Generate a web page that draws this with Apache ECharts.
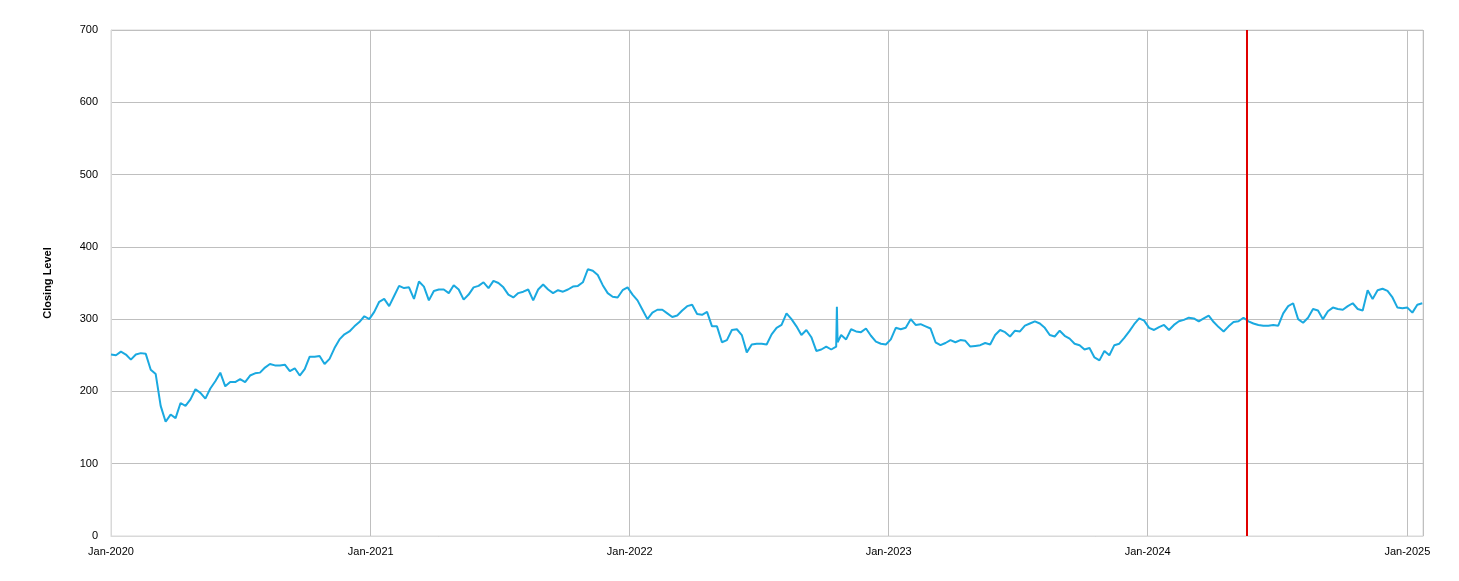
<!DOCTYPE html>
<html>
<head>
<meta charset="utf-8">
<script src="https://cdn.jsdelivr.net/npm/echarts@6/dist/echarts.min.js"></script>
<style>
html,body{margin:0;padding:0;background:#fff;}
#chart{width:1459px;height:581px;}
</style>
</head>
<body>
<div id="chart"></div>
<script>
// Weekly closing levels starting 2020-01-01 (one value every 7 days)
const startDate = '2020-01-01';
const stepDays = 7;
const closes = [
251,250,255,251,244,251,253,252,230,224,
180,158,168,163,184,180,189,203,198,190,
204,214,226,207,213,213,217,213,222,225,
226,233,238,236,236,237,228,232,222,231,
248,248,249,238,245,260,272,279,283,290,
296,304,300,310,324,328,318,332,346,343,
344,328,352,345,326,339,341,341,336,347,
341,327,334,344,346,351,343,353,350,344,
334,330,336,338,341,326,341,348,341,336,
340,338,341,345,346,351,369,367,361,347,
336,331,330,340,344,334,326,313,300,309,
313,313,308,303,305,312,318,320,307,306,
310,290,290,268,271,285,286,278,254,265,
266,266,265,279,288,292,308,300,290,278,
285,275,256,258,262,258,262,278,272,286,
283,282,287,277,269,266,265,272,288,286,
288,300,292,293,290,287,268,264,267,271,
268,271,270,262,263,264,267,265,278,285,
282,276,284,283,291,294,297,294,288,278,
276,284,277,273,266,264,258,260,247,243,
256,250,264,266,274,283,293,301,298,288,
285,289,292,285,292,297,299,302,301,297,
301,305,296,289,283,290,296,297,302,297,
294,292,291,291,292,291,308,318,322,300,
295,302,314,312,300,311,316,314,313,318,
322,314,312,340,328,340,342,339,330,316,
315,316,309,320,322
];
// Extra daily points (one-day spike)
const extraDates = ['2022-10-20', '2022-10-21'];
const extraValues = [317, 268];

const yTicks = [0, 100, 200, 300, 400, 500, 600, 700];
const xMin = '2020-01-01';
const xMax = '2025-01-23';
const eventDate = '2024-05-19';
const yAxisTitle = 'Closing Level';

const DAY = 86400000;
const t0 = Date.parse(startDate + 'T00:00:00Z');
let data = closes.map((v, i) => [t0 + i * stepDays * DAY, v]);
extraDates.forEach((d, k) => data.push([Date.parse(d + 'T00:00:00Z'), extraValues[k]]));
data.sort((a, b) => a[0] - b[0]);

const months = ['Jan','Feb','Mar','Apr','May','Jun','Jul','Aug','Sep','Oct','Nov','Dec'];
const chart = echarts.init(document.getElementById('chart'), null, {renderer: 'canvas'});
chart.setOption({
  animation: false,
  backgroundColor: '#ffffff',
  grid: {left: 111, right: 36, top: 30, bottom: 45, show: true, borderColor: '#d9d9d9', borderWidth: 1, containLabel: false},
  xAxis: {
    type: 'time',
    min: Date.parse(xMin + 'T00:00:00Z'),
    max: Date.parse(xMax + 'T00:00:00Z'),
    minInterval: 365 * DAY,
    maxInterval: 366 * DAY,
    axisLine: {show: true, lineStyle: {color: '#d9d9d9', width: 1}},
    axisTick: {show: false},
    splitLine: {show: true, lineStyle: {color: '#bfbfbf', width: 1}},
    axisLabel: {
      color: '#000', fontFamily: 'Liberation Sans', fontSize: 11, margin: 10,
      hideOverlap: false,
      formatter: function (val) {
        const d = new Date(val);
        return months[d.getUTCMonth()] + '-' + d.getUTCFullYear();
      }
    }
  },
  yAxis: {
    type: 'value',
    min: yTicks[0],
    max: yTicks[yTicks.length - 1],
    interval: 100,
    name: yAxisTitle,
    nameLocation: 'middle',
    nameGap: 58,
    nameTextStyle: {color: '#000', fontFamily: 'Liberation Sans', fontSize: 11, fontWeight: 'bold'},
    axisLine: {show: true, lineStyle: {color: '#d9d9d9'}},
    axisTick: {show: false},
    splitLine: {show: true, lineStyle: {color: '#bfbfbf', width: 1}},
    axisLabel: {color: '#000', fontFamily: 'Liberation Sans', fontSize: 11, margin: 13}
  },
  series: [{
    type: 'line',
    data: data,
    showSymbol: false,
    symbol: 'none',
    lineStyle: {color: '#1aa9e0', width: 2},
    markLine: {
      silent: true,
      symbol: ['none', 'none'],
      label: {show: false},
      lineStyle: {color: '#e00000', width: 2, type: 'solid'},
      data: [{xAxis: Date.parse(eventDate + 'T00:00:00Z')}]
    }
  }]
});
</script>
</body>
</html>
